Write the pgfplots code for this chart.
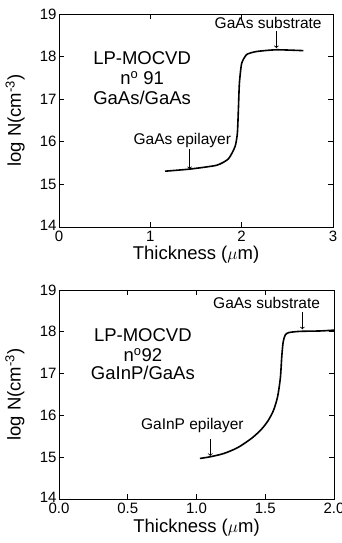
\documentclass[border=0pt]{standalone}
\usepackage{fontspec}
\setmainfont{Liberation Sans}
\usepackage{pgfplots}
\pgfplotsset{compat=1.18}
\begin{document}
\begin{tikzpicture}
\pgfplotsset{
  every axis/.append style={
    scale only axis,
    anchor=south west,
    axis line style={line width=0.9pt},
    major tick length=5pt,
    every tick/.style={line width=0.9pt, black},
    tick align=inside,
    ticklabel style={font=\fontsize{15}{16}\selectfont},
    yticklabel style={xshift=1pt},
    /pgf/number format/assume math mode=true,
    label style={font=\fontsize{18.5}{20}\selectfont},
    xtick pos=both, ytick pos=both,
  },
}
% ---------- top panel ----------
\begin{axis}[
  at={(59pt,316pt)}, width=274pt, height=213pt,
  xmin=0, xmax=3, ymin=14, ymax=19,
  xtick={0,1,2,3}, ytick={14,15,16,17,18,19},
  yticklabels={\raisebox{3pt}{14},15,16,17,18,19},
  xticklabel style={yshift=-0.5pt},
  xlabel={Thickness ($\mu$m)},
  ylabel={log N(cm\textsuperscript{-3})},
  xlabel style={at={(axis description cs:0.5,-0.131)}, anchor=center},
  ylabel style={at={(axis description cs:-0.16,0.5)}, anchor=center},
]
\addplot[black, line width=1.6pt, smooth, tension=0.35] coordinates {
(1.161,15.31) (1.435,15.36) (1.727,15.45) (1.855,15.60) (1.928,15.89)
(1.953,16.20) (1.964,16.75) (1.975,17.37) (2.0,17.84) (2.056,18.05)
(2.165,18.12) (2.38,18.16) (2.676,18.14)
};
\node[font=\fontsize{18.5}{20}\selectfont] at (axis cs:0.91,17.97) {LP-MOCVD};
\node[font=\fontsize{18.5}{20}\selectfont] at (axis cs:0.91,17.50) {n\textsuperscript{o} 91};
\node[font=\fontsize{18.5}{20}\selectfont] at (axis cs:0.91,17.03) {GaAs/GaAs};
\node[font=\fontsize{15.5}{17}\selectfont] at (axis cs:2.29,18.79) {GaAs substrate};
\draw[->, line width=0.8pt] (axis cs:2.38,18.60) -- (axis cs:2.38,18.20);
\node[font=\fontsize{15.5}{17}\selectfont] at (axis cs:1.35,16.04) {GaAs epilayer};
\draw[->, line width=0.8pt] (axis cs:1.43,15.82) -- (axis cs:1.43,15.36);
\end{axis}
% ---------- bottom panel ----------
\begin{axis}[
  at={(59pt,44pt)}, width=275pt, height=209pt,
  xmin=0, xmax=2, ymin=14, ymax=19,
  xtick={0,0.5,1,1.5,2}, ytick={14,15,16,17,18,19},
  yticklabels={\raisebox{3pt}{14},15,16,17,18,19},
  xticklabel style={yshift=-0.5pt, /pgf/number format/.cd, fixed, fixed zerofill, precision=1},
  xlabel={Thickness ($\mu$m)},
  ylabel={log N(cm\textsuperscript{-3})},
  xlabel style={at={(axis description cs:0.5,-0.139)}, anchor=center},
  ylabel style={at={(axis description cs:-0.16,0.5)}, anchor=center},
]
\addplot[black, line width=1.6pt, smooth, tension=0.45] coordinates {
(1.025,14.97) (1.10,15.01) (1.20,15.09) (1.30,15.23) (1.40,15.45)
(1.47,15.66) (1.52,15.87) (1.56,16.12) (1.59,16.45) (1.61,16.90)
(1.62,17.40) (1.63,17.75) (1.645,17.92) (1.67,17.98) (1.75,18.01)
(1.90,18.02) (2.0,18.04)
};
\node[font=\fontsize{18.5}{20}\selectfont] at (axis cs:0.61,17.92) {LP-MOCVD};
\node[font=\fontsize{18.5}{20}\selectfont] at (axis cs:0.61,17.44) {n\textsuperscript{o}92};
\node[font=\fontsize{18.5}{20}\selectfont] at (axis cs:0.61,17.01) {GaInP/GaAs};
\node[font=\fontsize{15.5}{17}\selectfont] at (axis cs:1.51,18.69) {GaAs substrate};
\draw[->, line width=0.8pt] (axis cs:1.77,18.47) -- (axis cs:1.77,18.06);
\node[font=\fontsize{15.5}{17}\selectfont] at (axis cs:0.97,15.77) {GaInP epilayer};
\draw[->, line width=0.8pt] (axis cs:1.10,15.44) -- (axis cs:1.10,15.03);
\end{axis}
\pgfresetboundingbox
\path (0pt,0pt) rectangle (341pt,543pt);
\end{tikzpicture}
\end{document}
